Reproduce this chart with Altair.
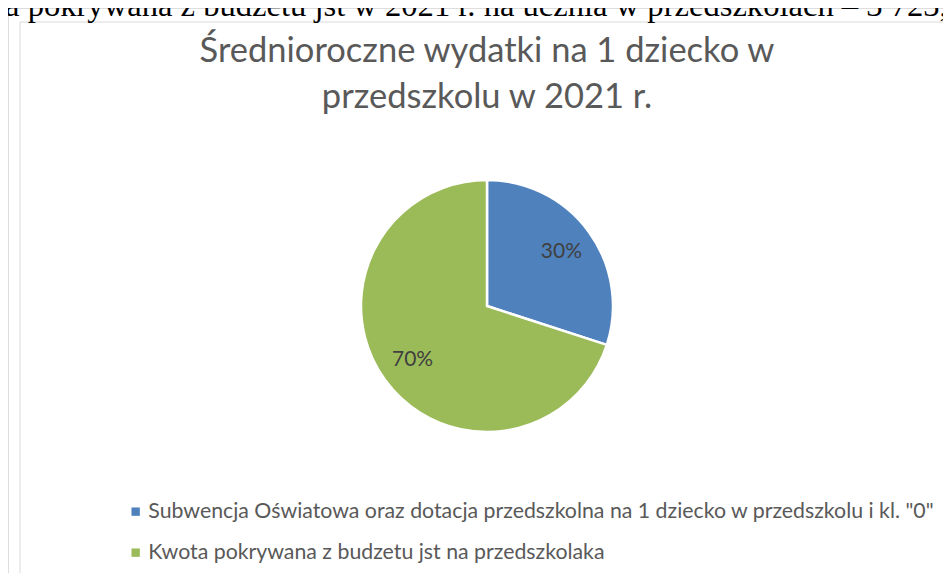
import altair as alt
import pandas as pd

categories = [
    "Subwencja Oświatowa oraz dotacja przedszkolna na 1 dziecko w przedszkolu i kl. \"0\"",
    "Kwota pokrywana z budzetu jst na przedszkolaka",
]
shares = [30, 70]
share_labels = ["30%", "70%"]
colors = ["#4F81BD", "#9BBB59"]
title_lines = ["Średnioroczne wydatki na 1 dziecko w", "przedszkolu w 2021 r."]
top_text = "ta pokrywana z budżetu jst  w 2021 r. na ucznia w przedszkolach – 3 723,"

W, H = 935, 565
CX, CY = 479, 298
FONT = "Lato"

df = pd.DataFrame({"cat": categories, "share": shares, "label": share_labels, "order": [0, 1]})
one = pd.DataFrame({"a": [0]})

frame = alt.Chart(one).mark_rect(fill="white", stroke="#d9d9d9", strokeWidth=1).encode(
    x=alt.value(12), x2=alt.value(W + 20), y=alt.value(14), y2=alt.value(H + 20)
)

top = alt.Chart(one).mark_text(
    font="Liberation Serif", fontSize=32.6, align="left", baseline="alphabetic", color="#000000"
).encode(x=alt.value(-12), y=alt.value(8), text=alt.value(top_text))

t1 = alt.Chart(one).mark_text(
    font=FONT, fontSize=34.5, align="center", baseline="alphabetic", color="#595959"
).encode(x=alt.value(CX), y=alt.value(54), text=alt.value(title_lines[0]))
t2 = alt.Chart(one).mark_text(
    font=FONT, fontSize=34.5, align="center", baseline="alphabetic", color="#595959"
).encode(x=alt.value(CX), y=alt.value(100), text=alt.value(title_lines[1]))

base = alt.Chart(df).encode(
    theta=alt.Theta("share:Q", stack=True),
    order=alt.Order("order:Q"),
)

pie = base.mark_arc(outerRadius=126, stroke="white", strokeWidth=2.5).encode(
    x=alt.value(CX),
    y=alt.value(CY),
    color=alt.Color(
        "cat:N",
        scale=alt.Scale(domain=categories, range=colors),
        legend=alt.Legend(
            title=None,
            orient="none",
            legendX=117,
            legendY=493,
            symbolType="square",
            symbolSize=70,
            symbolStrokeWidth=0,
            labelFont=FONT,
            labelFontSize=21.3,
            labelColor="#595959",
            labelLimit=0,
            labelOffset=2,
            rowPadding=19,
        ),
    ),
)

lbl = base.mark_text(radius=92, font=FONT, fontSize=21, color="#404040").encode(
    x=alt.value(CX), y=alt.value(CY), text="label:N"
)

chart = (
    alt.layer(frame, top, t1, t2, pie, lbl)
    .properties(width=W, height=H, autosize=alt.AutoSizeParams(type="none"), padding=0)
    .configure_view(stroke=None)
    .configure(background="white")
)

chart.save("out.html", embed_options={"renderer": "svg", "actions": False})
